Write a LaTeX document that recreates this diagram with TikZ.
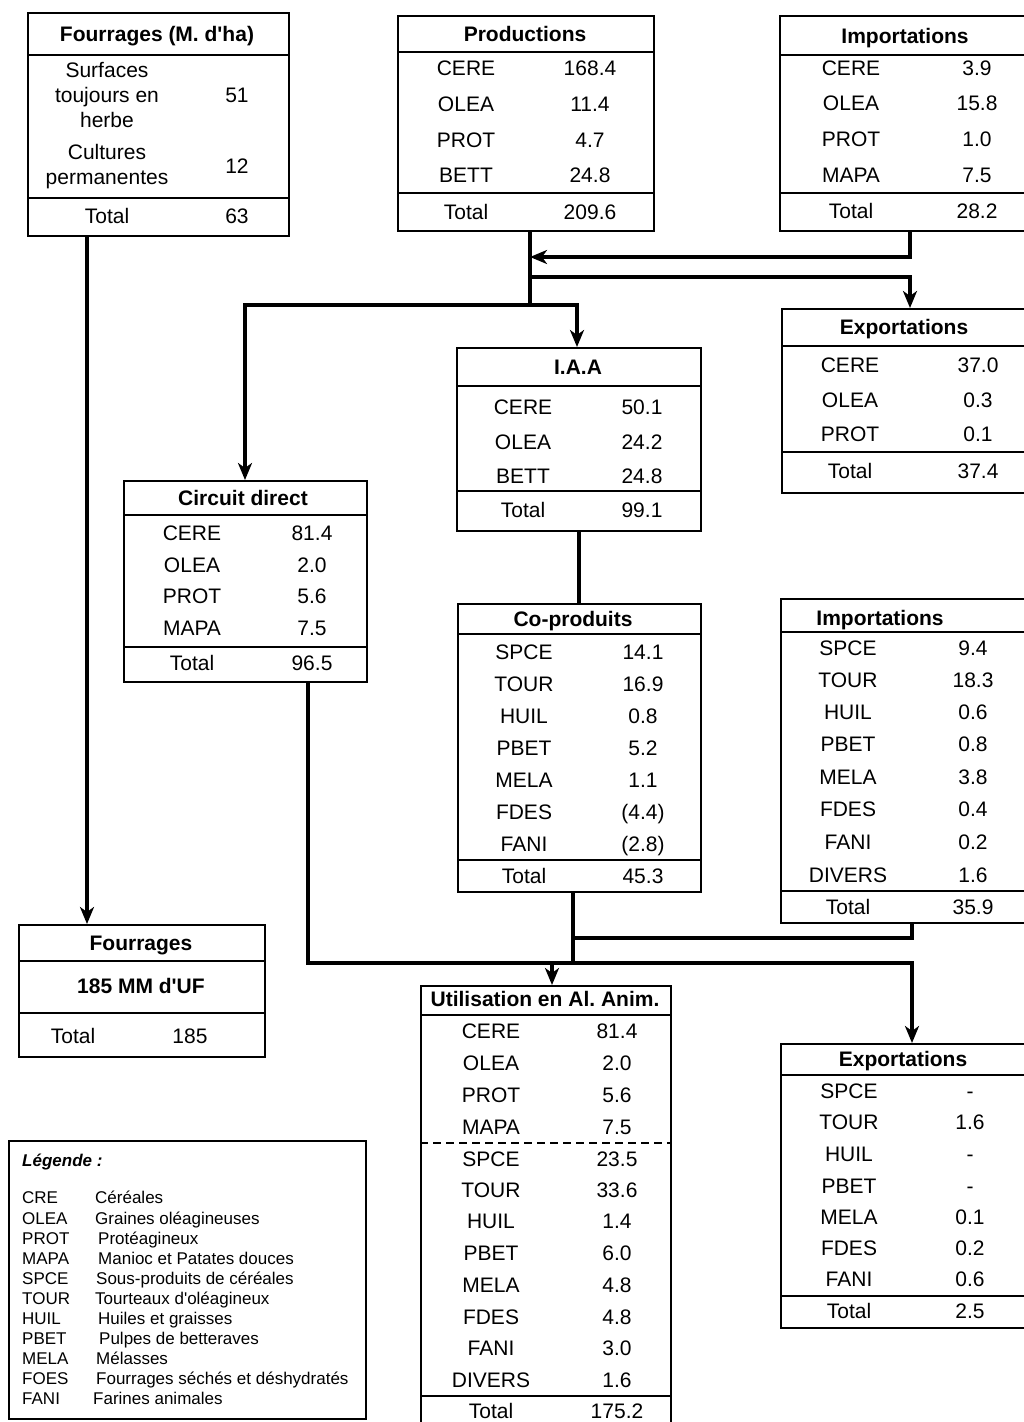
\documentclass[tikz,border=0pt]{standalone}
\usepackage{fontspec}
\setmainfont{Liberation Sans}
\usetikzlibrary{arrows.meta}
\frenchspacing
\newcommand\tabrows[4]{%
  \foreach \l/\v/\y [count=\i] in {#4} {%
    \node[t] (#1-l\i) at (#2,\y) {\l};
    \node[t] (#1-v\i) at (#3,\y) {\v};
  }}
\newcommand\tbox[5]{\node[box, minimum width={#4-#2}, minimum height={#5-#3}] (#1) at (#2,#3) {};}
\newcommand\sepline[2]{\draw[sep] (#1.west |- 0,#2) -- (#1.east |- 0,#2);}
\newcommand\apos{\textquotesingle}
\begin{document}
\begin{tikzpicture}[x=1pt,y=-1pt,
  font=\fontsize{21}{25}\selectfont,
  box/.style={draw, line width=2.4pt, inner sep=0pt, anchor=north west},
  sep/.style={line width=2.4pt},
  t/.style={inner sep=0pt, text height=15pt, text depth=0pt},
  hd/.style={t, font=\fontsize{21}{25}\selectfont\bfseries},
  ml/.style={inner sep=0pt, align=center, font=\fontsize{21}{25}\selectfont},
  lt/.style={inner sep=0pt, anchor=west, text height=12pt, text depth=0pt, font=\fontsize{17}{20}\selectfont},
  conn/.style={line width=3.6pt},
  arr/.style={conn, -{Stealth[length=17pt,width=14pt,inset=5pt]}}]
\clip (0,0) rectangle (1024,1422);
\fill[white] (0,0) rectangle (1024,1422);

% Fourrages (M. d'ha)
\tbox{fma}{27}{12}{288}{235}
\sepline{fma}{55}\sepline{fma}{198}
\node[hd] (fma-t) at (157,34) {Fourrages (M. d\apos ha)};
\node[ml] (fma-a) at (107,95) {Surfaces\\toujours en\\herbe};
\node[t] (fma-av) at (237,95) {51};
\node[ml] (fma-b) at (107,167) {Cultures\\permanentes};
\node[t] (fma-bv) at (237,166) {12};
\node[t] (fma-c) at (107,216) {Total};
\node[t] (fma-cv) at (237,216) {63};

% Productions
\tbox{prod}{397}{15}{653}{230}
\sepline{prod}{52}\sepline{prod}{193}
\node[hd] (prod-t) at (525,34) {Productions};
\tabrows{prod}{466}{590}{CERE/168.4/68,OLEA/11.4/104,PROT/4.7/140,BETT/24.8/175,Total/209.6/212}

% Importations 1
\tbox{imp1}{779}{15}{1036}{230}
\sepline{imp1}{55}\sepline{imp1}{193}
\node[hd] (imp1-t) at (905,36) {Importations};
\tabrows{imp1}{851}{977}{CERE/3.9/68,OLEA/15.8/103,PROT/1.0/139,MAPA/7.5/175,Total/28.2/211}

% Exportations 1
\tbox{exp1}{781}{308}{1036}{492}
\sepline{exp1}{346}\sepline{exp1}{452}
\node[hd] (exp1-t) at (904,327) {Exportations};
\tabrows{exp1}{850}{978}{CERE/37.0/365,OLEA/0.3/400,PROT/0.1/434,Total/37.4/471}

% I.A.A
\tbox{iaa}{456}{347}{700}{530}
\sepline{iaa}{386}\sepline{iaa}{491}
\node[hd] (iaa-t) at (578,367) {I.A.A};
\tabrows{iaa}{523}{642}{CERE/50.1/407,OLEA/24.2/442,BETT/24.8/476,Total/99.1/510}

% Circuit direct
\tbox{cd}{123}{480}{366}{681}
\sepline{cd}{515}\sepline{cd}{647}
\node[hd] (cd-t) at (243,498) {Circuit direct};
\tabrows{cd}{192}{312}{CERE/81.4/533,OLEA/2.0/565,PROT/5.6/596,MAPA/7.5/628,Total/96.5/663}

% Co-produits
\tbox{cop}{457}{603}{700}{891}
\sepline{cop}{634}\sepline{cop}{860}
\node[hd] (cop-t) at (573,619) {Co-produits};
\tabrows{cop}{524}{643}{SPCE/14.1/652,TOUR/16.9/684,HUIL/0.8/716,PBET/5.2/748,MELA/1.1/780,FDES/(4.4)/812,FANI/(2.8)/844,Total/45.3/876}

% Importations 2
\tbox{imp2}{780}{598}{1036}{922}
\sepline{imp2}{632}\sepline{imp2}{891}
\node[hd] (imp2-t) at (880,618) {Importations};
\tabrows{imp2}{848}{973}{SPCE/9.4/648,TOUR/18.3/680,HUIL/0.6/712,PBET/0.8/744,MELA/3.8/777,FDES/0.4/809,FANI/0.2/842,DIVERS/1.6/875,Total/35.9/907}

% Exportations 2
\tbox{exp2}{780}{1043}{1036}{1327}
\sepline{exp2}{1075}\sepline{exp2}{1296}
\node[hd] (exp2-t) at (903,1059) {Exportations};
\tabrows{exp2}{849}{970}{SPCE/-/1091,TOUR/1.6/1122,HUIL/-/1154,PBET/-/1186,MELA/0.1/1217,FDES/0.2/1248,FANI/0.6/1279,Total/2.5/1311}

% Utilisation
\tbox{util}{420}{985}{670}{1430}
\sepline{util}{1015}\sepline{util}{1396}
\draw[line width=1.5pt, dash pattern=on 8pt off 5pt] (util.west |- 0,1143) -- (util.east |- 0,1143);
\node[hd] (util-t) at (545,999) {Utilisation en Al. Anim.};
\tabrows{util}{491}{617}{CERE/81.4/1031,OLEA/2.0/1063,PROT/5.6/1095,MAPA/7.5/1127,SPCE/23.5/1159,TOUR/33.6/1190,HUIL/1.4/1221,PBET/6.0/1253,MELA/4.8/1285,FDES/4.8/1317,FANI/3.0/1348,DIVERS/1.6/1380,Total/175.2/1411}

% Fourrages (bottom)
\tbox{four}{18}{924}{264}{1056}
\sepline{four}{961}\sepline{four}{1013}
\node[hd] (four-t) at (141,943) {Fourrages};
\node[hd] (four-m) at (141,986) {185 MM d\apos UF};
\node[t] (four-l) at (73,1036) {Total};
\node[t] (four-v) at (190,1036) {185};

% Legend
\tbox{leg}{8}{1140}{365}{1418}
\node[lt, font=\fontsize{17}{20}\selectfont\bfseries\itshape] (leg-t) at (22,1160) {Légende :};
\foreach \a/\d/\dx/\y [count=\i] in {CRE/Céréales/95/1197,OLEA/Graines oléagineuses/95/1218,PROT/Protéagineux/98/1238,MAPA/Manioc et Patates douces/98/1258,SPCE/Sous-produits de céréales/96/1278,TOUR/Tourteaux d\apos oléagineux/95/1298,HUIL/Huiles et graisses/98/1318,PBET/Pulpes de betteraves/99/1338,MELA/Mélasses/96/1358,FOES/Fourrages séchés et déshydratés/96/1378,FANI/Farines animales/93/1398}{
  \node[lt] (leg-a\i) at (22,\y) {\a};
  \node[lt] (leg-d\i) at (\dx,\y) {\d};
}

% Connectors
\coordinate (ja) at (530,257);
\coordinate (jb) at (530,277);
\coordinate (jc) at (530,305);
\coordinate (jd) at (573,963);
\coordinate (je) at (573,938);
\coordinate (jf) at (912,963);
\coordinate (jg) at (552,963);

\draw[arr] (fma.south -| 87,0) -- (four.north -| 87,0);
\draw[conn] (prod.south -| 530,0) -- (jc);
\draw[arr] (imp1.south -| 910,0) |- (ja);
\draw[arr] (jb) -| (exp1.north -| 910,0);
\draw[arr] (jc) -| (cd.north -| 245,0);
\draw[arr] (jc) -| (iaa.north -| 577,0);
\draw[conn] (iaa.south -| 579,0) -- (cop.north -| 579,0);
\draw[conn] (cop.south -| 573,0) -- (jd);
\draw[conn] (imp2.south -| 912,0) |- (je);
\draw[arr] (cd.south -| 308,0) |- (jf) -- (exp2.north -| 912,0);
\draw[arr] (jg) -- (util.north -| 552,0);
\end{tikzpicture}
\end{document}
